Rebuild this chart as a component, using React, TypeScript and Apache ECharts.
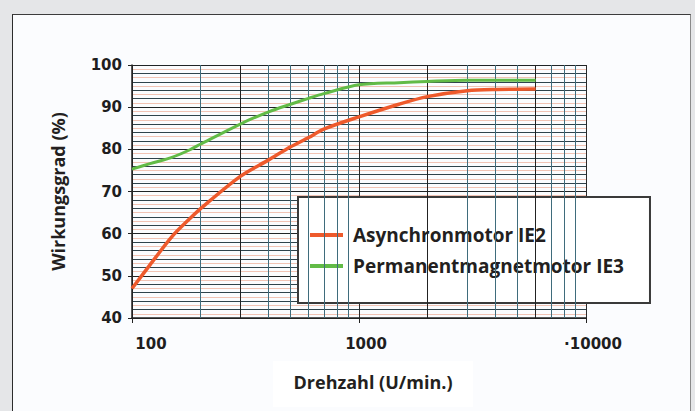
import React, { useEffect, useRef } from "react";
import * as echarts from "echarts";

// Drehzahl (U/min.) sample points
const speeds = [100, 120, 150, 180, 200, 300, 400, 500, 600, 700, 1000, 1500, 2000, 3000, 4000, 6000];
// Wirkungsgrad (%) – Asynchronmotor IE2
const asyncEff = [47.0, 52.6, 59.3, 63.6, 65.9, 73.6, 77.5, 80.6, 82.8, 84.8, 87.7, 90.7, 92.5, 93.9, 94.2, 94.3];
// Wirkungsgrad (%) – Permanentmagnetmotor IE3
const pmEff = [75.3, 76.6, 78.1, 79.9, 81.2, 86.0, 88.9, 90.7, 92.1, 93.2, 95.3, 95.8, 96.1, 96.4, 96.4, 96.4];

const seriesNames = ["Asynchronmotor IE2", "Permanentmagnetmotor IE3"];
const xTickLabels: Record<number, string> = { 100: "{a|100}", 1000: "{b|1000}", 10000: "{b|·10000}" };
// intermediate log grid lines
const xMinorGrid = [200, 300, 400, 500, 600, 700, 800, 900, 2000, 3000, 4000, 5000, 6000, 7000, 8000, 9000];
const xDarkGrid = [300, 2000, 6000];

export default function App() {
  const ref = useRef<HTMLDivElement>(null);
  useEffect(() => {
    if (!ref.current) return;
    const chart = echarts.init(ref.current, undefined, { renderer: "svg" });
    const nameFont = "'Open Sans', 'Noto Sans', sans-serif";
    const tickFont = "'DejaVu Sans', sans-serif";
    const tickText = { fontFamily: tickFont, fontWeight: "bold", fontSize: 15, color: "#1e1e1e" };
    chart.setOption({
      animation: false,
      backgroundColor: "transparent",
      grid: { left: 132, top: 65, width: 454, height: 253, containLabel: false },
      legend: {
        data: seriesNames,
        orient: "vertical",
        left: 298,
        top: 197,
        backgroundColor: "#ffffff",
        borderColor: "#3a3a3a",
        borderWidth: 2,
        borderRadius: 0,
        padding: [28, 26, 27, 12],
        itemWidth: 33,
        itemHeight: 4,
        itemGap: 11,
        icon: "rect",
        textStyle: {
          fontFamily: nameFont,
          fontWeight: "bold",
          fontSize: 19,
          color: "#231f20",
          lineHeight: 20,
          padding: [0, 0, 0, 5],
        },
      },
      xAxis: {
        type: "log",
        logBase: 10,
        min: 100,
        max: 10000,
        axisLine: { show: true, lineStyle: { color: "#222", width: 1.5 } },
        axisTick: { show: true, length: 5, lineStyle: { color: "#222" } },
        axisLabel: {
          ...tickText,
          margin: 18,
          formatter: (v: number) => xTickLabels[Math.round(v)] ?? "",
          rich: {
            a: { ...tickText, padding: [0, 0, 0, 38] },
            b: { ...tickText, padding: [0, 0, 0, 14] },
          },
        },
        splitLine: { show: true, lineStyle: { color: "#2a2a2a", width: 1 } },
      },
      yAxis: [
        {
          type: "value",
          min: 40,
          max: 100,
          interval: 10,
          name: "Wirkungsgrad (%)",
          nameLocation: "middle",
          nameRotate: 90,
          nameGap: 65,
          nameTextStyle: { fontFamily: nameFont, fontWeight: "bold", fontSize: 18, color: "#231f20" },
          axisLine: { show: true, lineStyle: { color: "#222", width: 1.5 } },
          axisTick: { show: true, length: 4, lineStyle: { color: "#222" } },
          axisLabel: { ...tickText, margin: 10 },
          splitLine: { show: true, lineStyle: { color: "#202426", width: 1.2 } },
          minorTick: { show: false, splitNumber: 5 },
          minorSplitLine: { show: true, lineStyle: { color: "#2f434b", width: 1 } },
        },
        {
          type: "value",
          min: 40,
          max: 100,
          interval: 2,
          show: true,
          position: "left",
          axisLine: { show: false },
          axisTick: { show: false },
          axisLabel: { show: false },
          splitLine: { show: false },
          minorTick: { show: false, splitNumber: 2 },
          minorSplitLine: { show: true, lineStyle: { color: "#f1c3b4", width: 1 } },
        },
      ],
      series: [
        {
          name: "grid",
          type: "line",
          data: [],
          z: 1,
          silent: true,
          markLine: {
            silent: true,
            symbol: ["none", "none"],
            label: { show: false },
            animation: false,
            data: xMinorGrid.map((v) => ({
              xAxis: v,
              lineStyle: { color: xDarkGrid.includes(v) ? "#222222" : "#3f6c7c", width: 1, type: "solid" },
            })),
          },
        },
        {
          name: seriesNames[0],
          type: "line",
          smooth: 0.3,
          showSymbol: false,
          z: 5,
          data: speeds.map((s, i) => [s, asyncEff[i]]),
          lineStyle: { color: "#ee5a2c", width: 3.5 },
          itemStyle: { color: "#ee5a2c" },
        },
        {
          name: seriesNames[1],
          type: "line",
          smooth: 0.3,
          showSymbol: false,
          z: 5,
          data: speeds.map((s, i) => [s, pmEff[i]]),
          lineStyle: { color: "#62bb47", width: 3 },
          itemStyle: { color: "#62bb47" },
        },
      ],
      graphic: [
        {
          type: "rect",
          shape: { x: 273, y: 361, width: 200, height: 46 },
          style: { fill: "#ffffff" },
          z: 1,
        },
        {
          type: "text",
          x: 373,
          y: 382,
          style: {
            text: "Drehzahl (U/min.)",
            fontFamily: nameFont,
            fontWeight: "bold",
            fontSize: 18,
            fill: "#231f20",
            align: "center",
            verticalAlign: "middle",
          },
          z: 2,
        },
      ],
    });
    return () => chart.dispose();
  }, []);
  return (
    <div style={{ position: "fixed", left: 0, top: 0, width: 695, height: 411, background: "#e5e6e8", overflow: "hidden" }}>
      <div
        style={{
          position: "absolute",
          left: 12,
          top: 14,
          width: 677,
          height: 420,
          background: "#fbfcfe",
          borderTop: "1.5px solid #3c3c3c",
          borderLeft: "1.5px solid #2c2c2c",
          borderRight: "1.5px solid #8a8a8a",
        }}
      />
      <div ref={ref} style={{ position: "absolute", left: 0, top: 0, width: 695, height: 411 }} />
    </div>
  );
}
